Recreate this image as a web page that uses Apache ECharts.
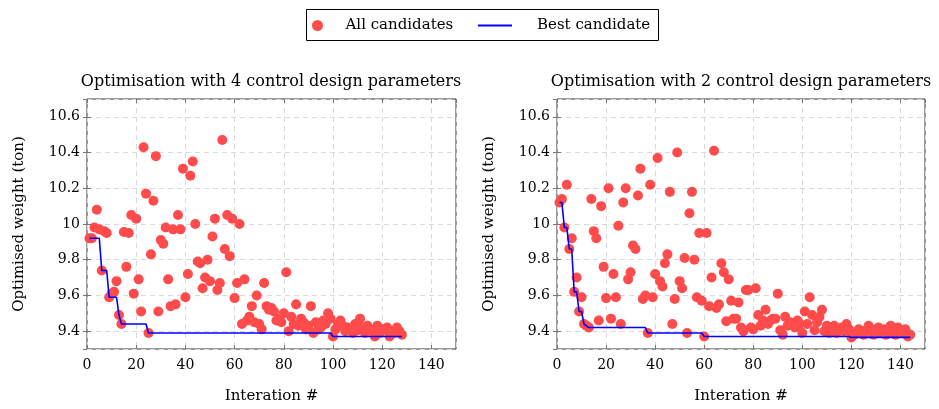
<!DOCTYPE html>
<html>
<head>
<meta charset="utf-8">
<script src="https://cdn.jsdelivr.net/npm/echarts@6/dist/echarts.min.js"></script>
<style>
  html, body { margin: 0; padding: 0; background: #fff; }
  #chart { width: 939px; height: 409px; }
</style>
</head>
<body>
<div id="chart"></div>
<script>
// candidate weights per iteration (iteration = position + 1)
const weights4 = [
  9.92, 9.92, 9.98, 10.08, 9.97, 9.74, 9.96, 9.95, 9.59, 9.61,
  9.62, 9.68, 9.49, 9.44, 9.955, 9.76, 9.95, 10.05, 9.61, 10.03,
  9.69, 9.51, 10.43, 10.17, 9.39, 9.83, 10.13, 10.38, 9.51, 9.91,
  9.89, 9.98, 9.69, 9.54, 9.97, 9.55, 10.05, 9.97, 10.31, 9.59,
  9.72, 10.27, 10.35, 10.0, 9.79, 9.78, 9.64, 9.70, 9.80, 9.68,
  9.93, 10.03, 9.63, 9.67, 10.47, 9.86, 10.05, 9.82, 10.03, 9.585,
  9.67, 10.0, 9.44, 9.69, 9.46, 9.48, 9.54, 9.45, 9.60, 9.44,
  9.41, 9.67, 9.54, 9.52, 9.53, 9.51, 9.46, 9.47, 9.45, 9.50,
  9.73, 9.40, 9.48, 9.44, 9.55, 9.43, 9.47, 9.45, 9.41, 9.43,
  9.54, 9.39, 9.45, 9.41, 9.42, 9.46, 9.44, 9.50, 9.47, 9.37,
  9.41, 9.44, 9.46, 9.43, 9.40, 9.42, 9.41, 9.39, 9.44, 9.405,
  9.47, 9.42, 9.39, 9.43, 9.41, 9.40, 9.37, 9.43, 9.39, 9.41,
  9.405, 9.42, 9.37, 9.40, 9.39, 9.42, 9.40, 9.38
];
const weights2 = [
  10.12, 10.14, 9.98, 10.22, 9.86, 9.92, 9.62, 9.70, 9.51, 9.59,
  9.44, 9.43, 9.42, 10.14, 9.96, 9.92, 9.46, 10.10, 9.76, 9.585,
  10.20, 9.47, 9.72, 9.59, 9.99, 9.44, 10.12, 10.20, 9.69, 9.73,
  9.88, 9.86, 10.16, 10.31, 9.58, 9.60, 9.39, 10.22, 9.59, 9.72,
  10.37, 9.68, 9.65, 9.78, 9.83, 10.18, 9.44, 9.58, 10.40, 9.68,
  9.64, 9.81, 9.39, 10.06, 10.18, 9.80, 9.59, 9.95, 9.57, 9.37,
  9.95, 9.54, 9.70, 10.41, 9.53, 9.55, 9.78, 9.73, 9.455, 9.69,
  9.57, 9.47, 9.47, 9.56, 9.42, 9.40, 9.63, 9.63, 9.42, 9.41,
  9.64, 9.49, 9.43, 9.46, 9.52, 9.44, 9.46, 9.47, 9.47, 9.61,
  9.405, 9.38, 9.48, 9.43, 9.45, 9.44, 9.42, 9.46, 9.44, 9.39,
  9.51, 9.44, 9.59, 9.49, 9.405, 9.45, 9.48, 9.52, 9.40, 9.43,
  9.39, 9.42, 9.43, 9.39, 9.41, 9.42, 9.40, 9.44, 9.41, 9.365,
  9.38, 9.39, 9.41, 9.40, 9.38, 9.405, 9.43, 9.41, 9.38, 9.40,
  9.42, 9.39, 9.41, 9.38, 9.39, 9.43, 9.405, 9.38, 9.42, 9.39,
  9.40, 9.41, 9.37, 9.38
];

// best candidate so far (breakpoints of the blue line)
const bestIter4 = [1, 5, 6, 8, 9, 12, 13, 14, 24, 25, 99, 100, 128];
const bestWeight4 = [9.92, 9.92, 9.74, 9.74, 9.59, 9.59, 9.49, 9.44, 9.44, 9.39, 9.39, 9.37, 9.37];
const bestIter2 = [1, 2, 3, 4, 5, 6, 7, 8, 9, 10, 11, 12, 13, 36, 37, 59, 60, 119, 120, 144];
const bestWeight2 = [10.12, 10.12, 9.98, 9.98, 9.86, 9.86, 9.62, 9.62, 9.51, 9.51, 9.44, 9.43, 9.42, 9.42, 9.39, 9.39, 9.37, 9.37, 9.365, 9.365];

const titles = ['Optimisation with 4 control design parameters', 'Optimisation with 2 control design parameters'];
const xName = 'Interation #';
const yName = 'Optimised weight (ton)';
const legendNames = ['All candidates', 'Best candidate'];

const FONT = '"DejaVu Serif", "Liberation Serif", serif';
const RED = '#ff4b4b';
const BLUE = '#0000ff';

function toPairs(xs, ys) {
  return ys.map(function (y, i) { return [xs ? xs[i] : i + 1, y]; });
}

const chart = echarts.init(document.getElementById('chart'));

const grids = [
  { left: 87, top: 99, width: 369, height: 253 },
  { left: 557, top: 99, width: 368, height: 253 }
];

const xAxes = [];
const yAxes = [];
grids.forEach(function (g, gi) {
  // bottom axis with labels
  xAxes.push({
    gridIndex: gi, type: 'value', min: 0, max: 150, interval: 20,
    name: xName, nameLocation: 'middle', nameGap: 40,
    nameTextStyle: { fontFamily: FONT, fontSize: 15, color: '#000' },
    axisLine: { show: false },
    axisTick: { show: true, inside: true, length: 4, lineStyle: { color: '#777' } },
    axisLabel: { showMaxLabel: false, margin: 9, fontFamily: FONT, fontSize: 14, color: '#000' },
    splitLine: { show: true, lineStyle: { color: '#d9d9d9', type: [5, 4], width: 1 } }
  });
  // top axis: ticks only
  xAxes.push({
    gridIndex: gi, type: 'value', position: 'top', min: 0, max: 150, interval: 20,
    axisLine: { show: false },
    axisTick: { show: true, inside: true, length: 4, lineStyle: { color: '#777' } },
    axisLabel: { show: false },
    splitLine: { show: false }
  });
  yAxes.push({
    gridIndex: gi, type: 'value', min: 9.3, max: 10.7, splitNumber: 7,
    name: yName, nameLocation: 'middle', nameGap: 60,
    nameTextStyle: { fontFamily: FONT, fontSize: 15, color: '#000' },
    axisLine: { show: false },
    axisTick: { show: true, inside: true, length: 4, lineStyle: { color: '#777' } },
    axisLabel: { showMinLabel: false, showMaxLabel: false, margin: 7, fontFamily: FONT, fontSize: 14, color: '#000' },
    splitLine: { show: true, lineStyle: { color: '#d9d9d9', type: [5, 4], width: 1 } }
  });
  // right axis: ticks only
  yAxes.push({
    gridIndex: gi, type: 'value', position: 'right', min: 9.3, max: 10.7, splitNumber: 7,
    axisLine: { show: false },
    axisTick: { show: true, inside: true, length: 4, lineStyle: { color: '#777' } },
    axisLabel: { show: false },
    splitLine: { show: false }
  });
});

const option = {
  backgroundColor: '#fff',
  animation: false,
  grid: grids.map(function (g) {
    return Object.assign({ show: true, borderColor: '#333', borderWidth: 1, backgroundColor: 'transparent' }, g);
  }),
  xAxis: xAxes,
  yAxis: yAxes,
  legend: [
    {
      data: [{ name: legendNames[0], icon: 'circle' }],
      left: 312, top: 18, padding: 0,
      itemWidth: 20, itemHeight: 11,
      textStyle: { fontFamily: FONT, fontSize: 15, color: '#000', padding: [0, 0, 0, 13] }
    },
    {
      data: [{ name: legendNames[1], icon: 'rect' }],
      left: 478, top: 18, padding: 0,
      itemWidth: 34, itemHeight: 2,
      textStyle: { fontFamily: FONT, fontSize: 15, color: '#000', padding: [0, 0, 0, 20] }
    }
  ],
  graphic: [
    {
      type: 'rect', silent: true,
      shape: { x: 306.5, y: 9.5, width: 352, height: 31 },
      style: { fill: 'none', stroke: '#000', lineWidth: 1 }
    },
    {
      type: 'text', x: 271, y: 82, silent: true,
      style: { text: titles[0], align: 'center', verticalAlign: 'middle', fontFamily: FONT, fontSize: 16, fill: '#000' }
    },
    {
      type: 'text', x: 741, y: 82, silent: true,
      style: { text: titles[1], align: 'center', verticalAlign: 'middle', fontFamily: FONT, fontSize: 16, fill: '#000' }
    }
  ],
  series: [
    {
      name: legendNames[0], type: 'scatter', xAxisIndex: 0, yAxisIndex: 0,
      symbol: 'circle', symbolSize: 10, itemStyle: { color: RED, opacity: 1 },
      data: toPairs(null, weights4)
    },
    {
      name: legendNames[1], type: 'line', xAxisIndex: 0, yAxisIndex: 0,
      symbol: 'none', lineStyle: { color: BLUE, width: 1.6 }, itemStyle: { color: BLUE },
      data: toPairs(bestIter4, bestWeight4), z: 5
    },
    {
      name: legendNames[0], type: 'scatter', xAxisIndex: 2, yAxisIndex: 2,
      symbol: 'circle', symbolSize: 10, itemStyle: { color: RED, opacity: 1 },
      data: toPairs(null, weights2)
    },
    {
      name: legendNames[1], type: 'line', xAxisIndex: 2, yAxisIndex: 2,
      symbol: 'none', lineStyle: { color: BLUE, width: 1.6 }, itemStyle: { color: BLUE },
      data: toPairs(bestIter2, bestWeight2), z: 5
    }
  ]
};

chart.setOption(option);
</script>
</body>
</html>
